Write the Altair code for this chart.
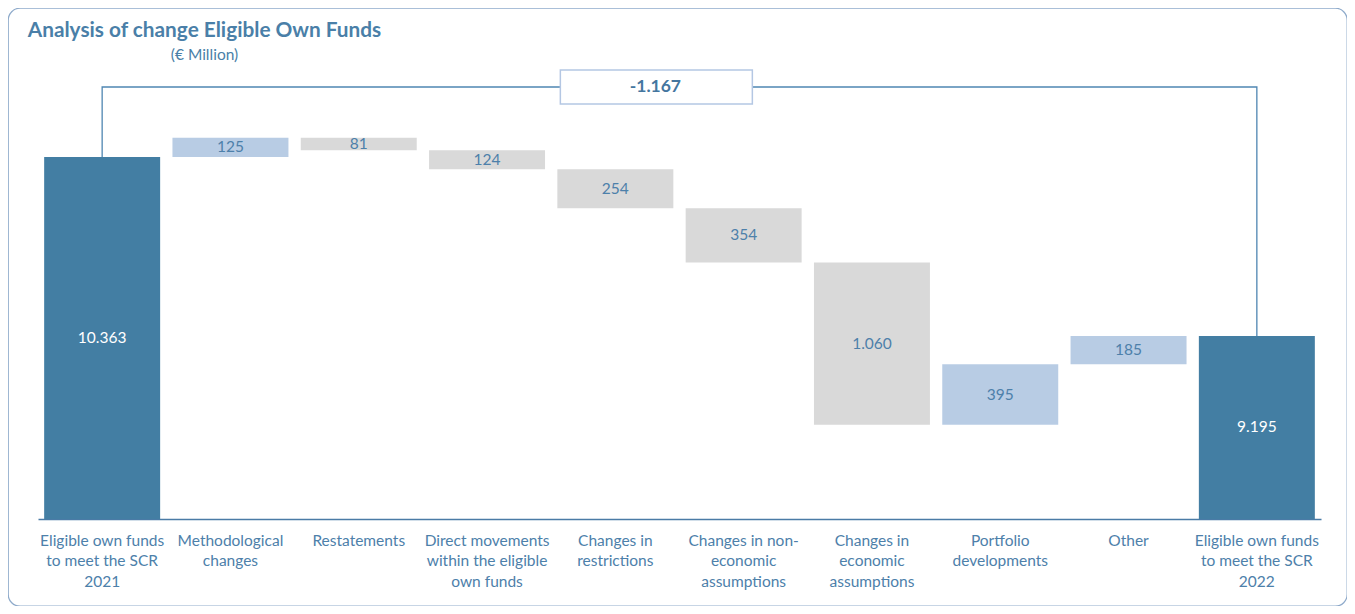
import altair as alt
import pandas as pd

# ---------------- data ----------------
tick_labels = [
    ["Eligible own funds", "to meet the SCR", "2021"],
    ["Methodological", "changes"],
    ["Restatements"],
    ["Direct movements", "within the eligible", "own funds"],
    ["Changes in", "restrictions"],
    ["Changes in non-", "economic", "assumptions"],
    ["Changes in", "economic", "assumptions"],
    ["Portfolio", "developments"],
    ["Other"],
    ["Eligible own funds", "to meet the SCR", "2022"],
]
amounts = [10363, 125, -81, -124, -254, -354, -1060, 395, 185, 9195]
kinds = ["total", "increase", "decrease", "decrease", "decrease",
         "decrease", "decrease", "increase", "increase", "total"]
total_change = -1167
axis_base = 8000          # value where the (truncated) axis starts
bracket_level = 10820     # level of the connector bracket

# ---------------- derived tables ----------------
categories = ["|".join(l) for l in tick_labels]


def fmt(v):
    return f"{v:,}".replace(",", ".")


rows = []
level = None
for cat, amt, kind in zip(categories, amounts, kinds):
    if kind == "total":
        top, bottom = amt, axis_base
        level = amt
    else:
        bottom = level
        top = level + amt
        level = top
    rows.append({"cat": cat, "top": top, "bottom": bottom, "kind": kind,
                 "label": fmt(abs(amt))})
bars_df = pd.DataFrame(rows)

bracket_df = pd.DataFrame({
    "cat": [categories[0], categories[0], categories[-1], categories[-1]],
    "y": [amounts[0], bracket_level, bracket_level, amounts[-1]],
    "order": [0, 1, 2, 3],
})
box_df = pd.DataFrame({"cat": [categories[4]], "y": [bracket_level],
                       "label": [fmt(total_change)]})

# ---------------- styling ----------------
FONT = "Lato"
DARK = "#437EA3"
LIGHT = "#B8CCE4"
GREY = "#D9D9D9"
TXT = "#4D80AA"

x_enc = alt.X(
    "cat:N", sort=categories,
    scale=alt.Scale(range=[30, 1313], paddingInner=0.096, paddingOuter=0.048),
    axis=alt.Axis(
        title=None, orient="bottom", offset=-87, labelAngle=0,
        labelExpr="split(datum.label, '|')", labelFont=FONT,
        labelFontSize=15.5, labelColor=TXT, labelLineHeight=20.5,
        labelPadding=14, labelBaseline="top", ticks=False,
        domainColor="#4A7BA6", domainWidth=1.5, labelLimit=0, grid=False,
    ),
)
y_scale = alt.Scale(domain=[8000, 11000], range=[511, 511 - 3000 * 0.15319])

base = alt.Chart(bars_df)

bars = base.mark_bar().encode(
    x=x_enc,
    y=alt.Y("top:Q", scale=y_scale, axis=None),
    y2="bottom:Q",
    color=alt.Color("kind:N", legend=None,
                    scale=alt.Scale(domain=["total", "increase", "decrease"],
                                    range=[DARK, LIGHT, GREY])),
)

labels = base.mark_text(font=FONT, fontSize=15.5, baseline="middle").encode(
    x=x_enc,
    y=alt.Y("mid:Q", scale=y_scale, axis=None),
    text="label:N",
    color=alt.condition("datum.kind === 'total'", alt.value("white"), alt.value(TXT)),
).transform_calculate(mid="(datum.top + datum.bottom) / 2")

bracket = alt.Chart(bracket_df).mark_line(color="#4F86B2", strokeWidth=1.3).encode(
    x=x_enc,
    y=alt.Y("y:Q", scale=y_scale, axis=None),
    order="order:Q",
)

box = alt.Chart(box_df).mark_point(
    shape="M-1,-0.177H1V0.177H-1Z", size=36864, filled=True, fill="white",
    stroke="#B4C7E3", strokeWidth=1.5, opacity=1, xOffset=41,
).encode(x=x_enc, y=alt.Y("y:Q", scale=y_scale, axis=None))

box_text = alt.Chart(box_df).mark_text(
    font=FONT, fontSize=17.5, fontWeight="bold", color="#44769F", dx=40,
    baseline="middle",
).encode(x=x_enc, y=alt.Y("y:Q", scale=y_scale, axis=None), text="label:N")

chart = alt.layer(bracket, bars, labels, box, box_text).properties(
    width=1339, height=598, padding=0,
    title=alt.TitleParams(
        "Analysis of change Eligible Own Funds", subtitle="(€ Million)",
        anchor="start", align="center", dx=196.5, dy=56.5, offset=0,
        font=FONT, fontSize=20.8, fontWeight="bold", color="#4A7FA8",
        subtitleFont=FONT, subtitleFontSize=15.5, subtitleColor="#4A7FA8",
        subtitlePadding=6, baseline="top",
    ),
).configure_view(stroke="#8FABCB", strokeWidth=1.3, cornerRadius=12)

chart.save("out.html", embed_options={"renderer": "svg", "actions": False})
